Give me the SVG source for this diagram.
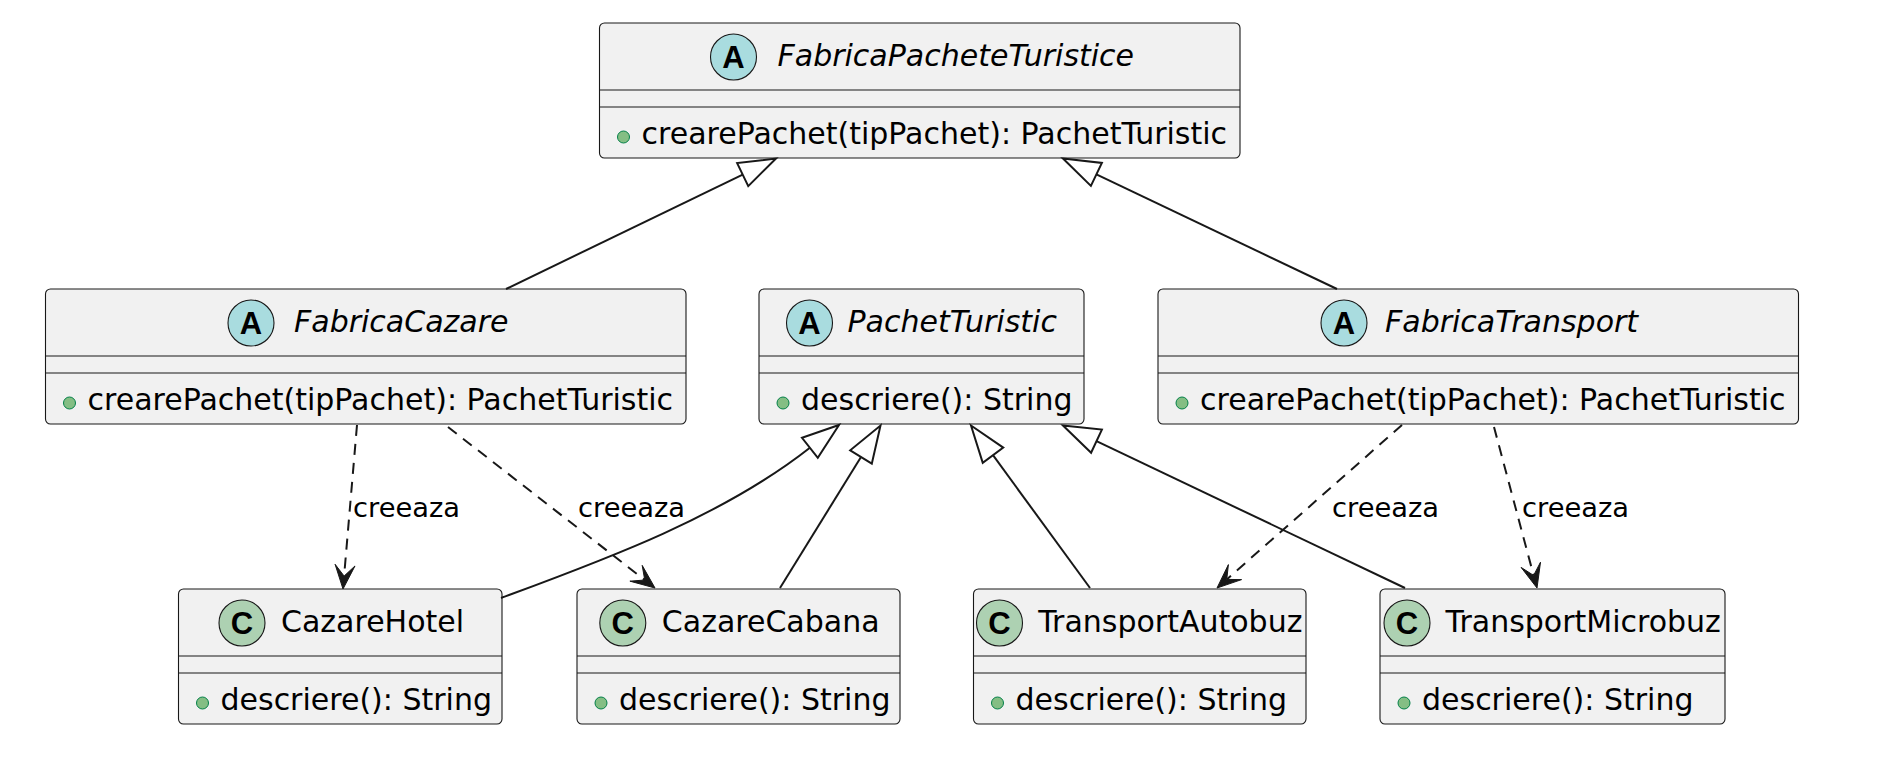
<svg xmlns="http://www.w3.org/2000/svg" width="1880" height="764" viewBox="0 0 1880 764">
<style>
.box{fill:#F1F1F1;stroke:#181818;stroke-width:1.1}
.sep{stroke:#181818;stroke-width:1.1}
.ca{fill:#A9DCDF;stroke:#181818;stroke-width:1.1}
.cc{fill:#ADD1B2;stroke:#181818;stroke-width:1.1}
.let{font-family:"Liberation Sans",Arial,sans-serif;font-weight:bold;font-size:31px;fill:#000;text-anchor:middle}
.ttl{font-family:"DejaVu Sans",sans-serif;font-size:30px;fill:#000}
.abs{font-style:italic}
.mth{font-family:"DejaVu Sans",sans-serif;font-size:30px;fill:#000}
.dot{fill:#84BE84;stroke:#038048;stroke-width:1}
.gen{fill:none;stroke:#181818;stroke-width:2}
.tri{fill:#FFFFFF;stroke:#181818;stroke-width:2;stroke-linejoin:miter}
.dep{fill:none;stroke:#181818;stroke-width:2;stroke-dasharray:11,8}
.ah{fill:#181818;stroke:#181818;stroke-width:1}
.lbl{font-family:"DejaVu Sans",sans-serif;font-size:27.3px;fill:#000}
</style>
<rect width="1880" height="764" fill="#FFFFFF"/>

<g id="n_fpt">
<rect class="box" x="599.5" y="23" width="640.5" height="135" rx="5"/>
<line class="sep" x1="599.5" y1="90" x2="1240" y2="90"/>
<line class="sep" x1="599.5" y1="107" x2="1240" y2="107"/>
<circle class="ca" cx="733.5" cy="57" r="23"/>
<text class="let" x="733.5" y="68">A</text>
<text class="ttl abs" x="777.5" y="66">FabricaPacheteTuristice</text>
<circle class="dot" cx="623.5" cy="137" r="6"/>
<text class="mth" x="641.5" y="144">crearePachet(tipPachet): PachetTuristic</text>
</g>

<g id="n_fc">
<rect class="box" x="45.5" y="289" width="640.5" height="135" rx="5"/>
<line class="sep" x1="45.5" y1="356" x2="686" y2="356"/>
<line class="sep" x1="45.5" y1="373" x2="686" y2="373"/>
<circle class="ca" cx="251" cy="323" r="23"/>
<text class="let" x="251" y="334">A</text>
<text class="ttl abs" x="294" y="332">FabricaCazare</text>
<circle class="dot" cx="69.5" cy="403" r="6"/>
<text class="mth" x="87.5" y="410">crearePachet(tipPachet): PachetTuristic</text>
</g>

<g id="n_pt">
<rect class="box" x="759" y="289" width="325" height="135" rx="5"/>
<line class="sep" x1="759" y1="356" x2="1084" y2="356"/>
<line class="sep" x1="759" y1="373" x2="1084" y2="373"/>
<circle class="ca" cx="809.5" cy="323" r="23"/>
<text class="let" x="809.5" y="334">A</text>
<text class="ttl abs" x="847.5" y="332">PachetTuristic</text>
<circle class="dot" cx="783" cy="403" r="6"/>
<text class="mth" x="801" y="410">descriere(): String</text>
</g>

<g id="n_ft">
<rect class="box" x="1158" y="289" width="640.5" height="135" rx="5"/>
<line class="sep" x1="1158" y1="356" x2="1798.5" y2="356"/>
<line class="sep" x1="1158" y1="373" x2="1798.5" y2="373"/>
<circle class="ca" cx="1344" cy="323" r="23"/>
<text class="let" x="1344" y="334">A</text>
<text class="ttl abs" x="1385" y="332">FabricaTransport</text>
<circle class="dot" cx="1182" cy="403" r="6"/>
<text class="mth" x="1200" y="410">crearePachet(tipPachet): PachetTuristic</text>
</g>

<g id="n_ch">
<rect class="box" x="178.5" y="589" width="323.5" height="135" rx="5"/>
<line class="sep" x1="178.5" y1="656" x2="502" y2="656"/>
<line class="sep" x1="178.5" y1="673" x2="502" y2="673"/>
<circle class="cc" cx="242" cy="623" r="23"/>
<text class="let" x="242" y="634">C</text>
<text class="ttl" x="281" y="632">CazareHotel</text>
<circle class="dot" cx="202.5" cy="703" r="6"/>
<text class="mth" x="220.5" y="710">descriere(): String</text>
</g>

<g id="n_cc">
<rect class="box" x="577" y="589" width="323" height="135" rx="5"/>
<line class="sep" x1="577" y1="656" x2="900" y2="656"/>
<line class="sep" x1="577" y1="673" x2="900" y2="673"/>
<circle class="cc" cx="622.8" cy="623" r="23"/>
<text class="let" x="622.8" y="634">C</text>
<text class="ttl" x="661.8" y="632">CazareCabana</text>
<circle class="dot" cx="601" cy="703" r="6"/>
<text class="mth" x="619" y="710">descriere(): String</text>
</g>

<g id="n_ta">
<rect class="box" x="973.5" y="589" width="332.5" height="135" rx="5"/>
<line class="sep" x1="973.5" y1="656" x2="1306" y2="656"/>
<line class="sep" x1="973.5" y1="673" x2="1306" y2="673"/>
<circle class="cc" cx="999.5" cy="623" r="23"/>
<text class="let" x="999.5" y="634">C</text>
<text class="ttl" x="1038.2" y="632">TransportAutobuz</text>
<circle class="dot" cx="997.5" cy="703" r="6"/>
<text class="mth" x="1015.5" y="710">descriere(): String</text>
</g>

<g id="n_tm">
<rect class="box" x="1380" y="589" width="345" height="135" rx="5"/>
<line class="sep" x1="1380" y1="656" x2="1725" y2="656"/>
<line class="sep" x1="1380" y1="673" x2="1725" y2="673"/>
<circle class="cc" cx="1407" cy="623" r="23"/>
<text class="let" x="1407" y="634">C</text>
<text class="ttl" x="1445.5" y="632">TransportMicrobuz</text>
<circle class="dot" cx="1404" cy="703" r="6"/>
<text class="mth" x="1422" y="710">descriere(): String</text>
</g>

<g id="connectors">
<!-- generalizations to FabricaPacheteTuristice -->
<line class="gen" x1="506" y1="289" x2="742.7" y2="174.6"/>
<polygon class="tri" points="776,158.5 748.25,186.1 737.15,163.1"/>
<line class="gen" x1="1337" y1="289" x2="1096.4" y2="174.4"/>
<polygon class="tri" points="1063,158.5 1101.9,162.9 1090.9,185.9"/>

<!-- generalizations to PachetTuristic -->
<path class="gen" d="M501,598 C604,560 722,517 809.9,447.8"/>
<polygon class="tri" points="839,425 817.8,457.8 802,437.8"/>
<line class="gen" x1="780" y1="588" x2="861" y2="457"/>
<polygon class="tri" points="880.5,425.5 871.8,463.7 850.2,450.3"/>
<line class="gen" x1="1090" y1="588" x2="993" y2="455.2"/>
<polygon class="tri" points="971,425.5 1003.25,447.6 982.75,462.8"/>
<line class="gen" x1="1405" y1="588" x2="1096.5" y2="441.2"/>
<polygon class="tri" points="1063,425.5 1101.9,429.6 1091.1,452.7"/>

<!-- dependencies "creeaza" -->
<line class="dep" x1="357" y1="425" x2="344.1" y2="576"/>
<polygon class="ah" points="343,589 355,565.95 344.1,576.05 335.08,564.25"/>
<text class="lbl" x="353" y="517">creeaza</text>

<line class="dep" x1="448" y1="427" x2="644.7" y2="580"/>
<polygon class="ah" points="655,588 629.9,581.15 644.74,580.02 642.2,565.37"/>
<text class="lbl" x="578" y="517">creeaza</text>

<line class="dep" x1="1402" y1="425" x2="1226.75" y2="579.4"/>
<polygon class="ah" points="1217,588 1228.4,564.6 1226.75,579.4 1241.6,579.6"/>
<text class="lbl" x="1332" y="517">creeaza</text>

<line class="dep" x1="1494" y1="427" x2="1533.6" y2="575.4"/>
<polygon class="ah" points="1537,588 1521.1,567.4 1533.6,575.4 1540.5,562.2"/>
<text class="lbl" x="1522" y="517">creeaza</text>
</g>
</svg>
